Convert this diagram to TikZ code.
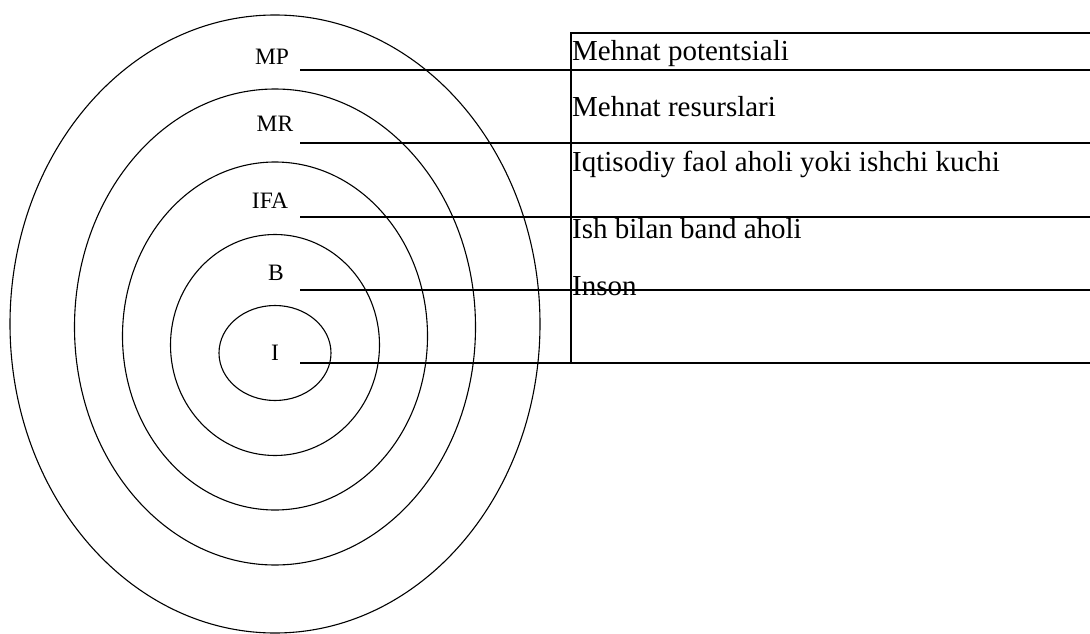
\documentclass[tikz,border=0pt]{standalone}
\usepackage{fontspec}
\setmainfont{Liberation Serif}
\usetikzlibrary{shapes.geometric}
\def\lab{\node[anchor=base,inner sep=0pt,font=\fontsize{23.5}{28}\selectfont]}
\def\row{\node[anchor=base west,inner sep=0pt,font=\fontsize{29}{34}\selectfont]}
\def\dline{\draw[line width=1.3pt]}

\begin{document}
\begin{tikzpicture}[x=1pt,y=-1pt,
    ring/.style={draw,ellipse,line width=1.1pt,inner sep=0pt}]
    \useasboundingbox (0,0) rectangle (1090,634);
    % nested rings
    \node[ring,minimum width=530pt,minimum height=618pt] (ringMP)  at (275,324) {};
    \node[ring,minimum width=401pt,minimum height=476pt] (ringMR)  at (275,327) {};
    \node[ring,minimum width=305pt,minimum height=348pt] (ringIFA) at (275,336) {};
    \node[ring,minimum width=209pt,minimum height=221pt] (ringB)   at (275,345) {};
    \node[ring,minimum width=112pt,minimum height=95pt]  (ringI)   at (275,353) {};
    % ring labels
    \lab (labMP)  at (272,65)  {MP};
    \lab (labMR)  at (275,131) {MR};
    \lab (labIFA) at (270,208) {IFA};
    \lab (labB)   at (276,280) {B};
    \lab (labI)   at (275,360) {I};
    % table texts
    \row (rowMP)  at (572,60.5)  {Mehnat potentsiali};
    \row (rowMR)  at (572,116.5) {Mehnat resurslari};
    \row (rowIFA) at (572,171.5) {Iqtisodiy faol aholi yoki ishchi kuchi};
    \row (rowB)   at (572,238)   {Ish bilan band aholi};
    \row (rowI)   at (572,295)   {Inson};
    % line ends
    \coordinate (tabTL) at (571,33);  \coordinate (tabTR) at (1090,33);
    \coordinate (tabBL) at (571,363);
    \coordinate (mpL)  at (300,70);   \coordinate (mpR)  at (1090,70);
    \coordinate (mrL)  at (300,143);  \coordinate (mrR)  at (1090,143);
    \coordinate (ifaL) at (300,217);  \coordinate (ifaR) at (1090,217);
    \coordinate (bL)   at (300,290);  \coordinate (bR)   at (1090,290);
    \coordinate (iL)   at (300,363);  \coordinate (iR)   at (1090,363);
    \dline (tabTR) -- (tabTL) -- (tabBL);
    \dline (mpL) -- (mpR);
    \dline (mrL) -- (mrR);
    \dline (ifaL) -- (ifaR);
    \dline (bL) -- (bR);
    \dline (iL) -- (iR);
\end{tikzpicture}
\end{document}
